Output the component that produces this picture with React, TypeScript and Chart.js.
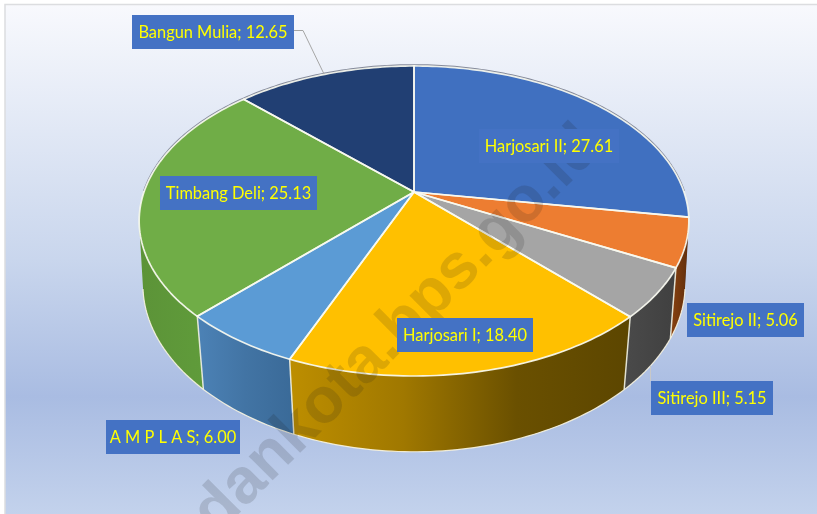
import React, { useEffect, useRef } from "react";
import { Chart, registerables } from "chart.js";

Chart.register(...registerables);

const categories = ["Harjosari II", "Sitirejo II", "Sitirejo III", "Harjosari I", "A M P L A S", "Timbang Deli", "Bangun Mulia"];
const values = [27.61, 5.06, 5.15, 18.4, 6.0, 25.13, 12.65];
const topColors = ["#4070C0", "#ED7D31", "#A5A5A5", "#FFC000", "#5B9BD5", "#70AD47", "#213F73"];
const wallStops = [
  ["#2f5597", "#2f5597"],
  ["#8a4210", "#5f2e0c"],
  ["#4a4a4a", "#404040"],
  ["#bd8e00", "#a07800", "#6a5000", "#5c4600"],
  ["#4c82b6", "#4274a4", "#3a6a98"],
  ["#5c9338", "#5f9a3a", "#62a03c"],
  ["#1a3560", "#1a3560"],
];
// label boxes: left, top, right, bottom
const labelBoxes = [
  [479, 129, 619, 163],
  [687, 303, 804, 337],
  [651, 381, 773, 415],
  [397, 318, 533, 352],
  [106, 420, 240, 454],
  [160, 176, 317, 210],
  [132, 15, 294, 49],
];

// perspective of the disc
const CX = 414, CY = 192, B = 270, A = 149.6, K = 0.187;
const M = 0.025, VY = 2916;

const top = (a: number) => {
  const u = Math.cos(a), v = Math.sin(a), w = 1 - K * v;
  return { x: CX + (B * u) / w, y: CY + (A * v) / w, w };
};
const bottom = (a: number) => {
  const p = top(a);
  const shrink = 0.986 - Math.max(0, 0.965 - p.w) * 0.14;
  return {
    x: CX + (p.x - CX) * shrink,
    y: (p.y * p.w + M * VY) / (p.w + M),
  };
};

const arcPoints = (f: (a: number) => { x: number; y: number }, s: number, e: number) => {
  const n = Math.max(2, Math.ceil((e - s) / 0.02));
  const out: { x: number; y: number }[] = [];
  for (let i = 0; i <= n; i++) out.push(f(s + ((e - s) * i) / n));
  return out;
};

const disc3d = {
  id: "disc3d",
  beforeDraw(chart: any) {
    const { ctx, width, height } = chart;
    ctx.save();
    ctx.fillStyle = "#ffffff";
    ctx.fillRect(0, 0, width, height);
    const g = ctx.createLinearGradient(0, 5, 0, 514);
    g.addColorStop(0, "#f8f9fd");
    g.addColorStop(0.5, "#c9d6ed");
    g.addColorStop(0.77, "#a9bce2");
    g.addColorStop(1, "#c3d2ec");
    ctx.fillStyle = g;
    ctx.fillRect(5, 5, width - 5, height - 5);
    ctx.strokeStyle = "#dcdde0";
    ctx.lineWidth = 1.5;
    ctx.beginPath();
    ctx.moveTo(5, height);
    ctx.lineTo(5, 4.5);
    ctx.lineTo(width, 4.5);
    ctx.stroke();
    ctx.restore();
  },
  beforeDatasetDraw(chart: any, args: any) {
    const { ctx } = chart;
    const arcs = args.meta.data as any[];
    const order = arcs.map((_, i) => i).sort((a, b) => {
      const m = (i: number) => Math.sin((arcs[i].startAngle + arcs[i].endAngle) / 2);
      return m(a) - m(b);
    });
    ctx.save();
    ctx.lineJoin = "round";
    // walls
    for (const i of order) {
      const { startAngle: s, endAngle: e } = arcs[i];
      const t = arcPoints(top, s, e);
      const b = arcPoints(bottom, s, e);
      const xs = [...t, ...b].map((p) => p.x);
      const x0 = Math.min(...xs), x1 = Math.max(...xs);
      const g = ctx.createLinearGradient(x0, 0, x1, 0);
      wallStops[i].forEach((c, k, l) => g.addColorStop(k / (l.length - 1), c));
      ctx.fillStyle = g;
      // fill as overlapping bands so the fold at the silhouette leaves no gap
      ctx.beginPath();
      for (let k = 1; k < t.length; k++) {
        const cw = (t[k].x - t[k - 1].x) * (b[k].y - t[k - 1].y) - (t[k].y - t[k - 1].y) * (b[k].x - t[k - 1].x) > 0;
        const q = [t[k - 1], t[k], b[k], b[k - 1]];
        const pts = cw ? q : [...q].reverse();
        pts.forEach((p, j) => (j ? ctx.lineTo(p.x, p.y) : ctx.moveTo(p.x, p.y)));
        ctx.closePath();
      }
      ctx.fill("nonzero");
    }
    // wall edges on the near side
    for (const el of arcs) {
      const a = el.startAngle;
      if (Math.sin(a) < 0.3) continue;
      const p = top(a), q = bottom(a);
      ctx.strokeStyle = "rgba(240,240,225,0.9)";
      ctx.lineWidth = 1.5;
      ctx.beginPath();
      ctx.moveTo(p.x, p.y);
      ctx.lineTo(q.x, q.y);
      ctx.stroke();
    }
    const lower = arcPoints(bottom, Math.PI * 0.06, Math.PI * 0.94);
    ctx.strokeStyle = "rgba(250,245,225,0.9)";
    ctx.lineWidth = 1.2;
    ctx.beginPath();
    lower.forEach((p, k) => (k ? ctx.lineTo(p.x, p.y) : ctx.moveTo(p.x, p.y)));
    ctx.stroke();
    // far rim shadow
    const rim = arcPoints(top, Math.PI, Math.PI * 2);
    ctx.strokeStyle = "rgba(90,95,115,0.7)";
    ctx.lineWidth = 2;
    ctx.beginPath();
    rim.forEach((p, k) => (k ? ctx.lineTo(p.x, p.y - 0.8) : ctx.moveTo(p.x, p.y - 0.8)));
    ctx.stroke();
    // top faces
    arcs.forEach((el, i) => {
      ctx.fillStyle = topColors[i];
      ctx.beginPath();
      ctx.moveTo(CX, CY);
      arcPoints(top, el.startAngle, el.endAngle).forEach((p) => ctx.lineTo(p.x, p.y));
      ctx.closePath();
      ctx.fill();
    });
    arcs.forEach((el) => {
      ctx.strokeStyle = "rgba(248,250,240,0.92)";
      ctx.lineWidth = 1.7;
      ctx.beginPath();
      ctx.moveTo(CX, CY);
      arcPoints(top, el.startAngle, el.endAngle).forEach((p) => ctx.lineTo(p.x, p.y));
      ctx.closePath();
      ctx.stroke();
    });
    ctx.restore();
    return false;
  },
  afterDraw(chart: any) {
    const { ctx } = chart;
    // watermark (under the labels)
    ctx.save();
    ctx.translate(365, 363);
    ctx.rotate(-Math.PI / 4);
    ctx.font = '700 64px "Liberation Sans", sans-serif';
    ctx.textAlign = "center";
    ctx.textBaseline = "middle";
    ctx.fillStyle = "rgba(30,30,30,0.15)";
    ctx.fillText("medankota.bps.go.id", 0, 0);
    ctx.restore();

    ctx.save();
    // leader lines
    ctx.strokeStyle = "#a6a6a6";
    ctx.lineWidth = 1;
    ctx.beginPath();
    ctx.moveTo(294, 30.5);
    ctx.lineTo(303, 30.5);
    ctx.lineTo(324, 74);
    ctx.stroke();
    ctx.strokeStyle = "#c8c8c8";
    ctx.beginPath();
    ctx.moveTo(650.5, 366);
    ctx.lineTo(650.5, 381);
    ctx.stroke();
    // labels
    categories.forEach((name, i) => {
      const [l, t, r, b] = labelBoxes[i];
      ctx.fillStyle = "#4472C4";
      ctx.fillRect(l, t, r - l, b - t);
      ctx.save();
      ctx.translate((l + r) / 2, (t + b) / 2 + 0.5);
      ctx.scale(0.91, 1);
      ctx.font = '400 18px Lato, "Open Sans", sans-serif';
      ctx.textAlign = "center";
      ctx.textBaseline = "middle";
      ctx.fillStyle = "#FFFF00";
      ctx.fillText(`${name}; ${values[i].toFixed(2)}`, 0, 0);
      ctx.restore();
    });
    ctx.restore();
  },
};

export default function App() {
  const ref = useRef<HTMLCanvasElement>(null);
  useEffect(() => {
    const chart = new Chart(ref.current!, {
      type: "pie",
      data: {
        labels: categories,
        datasets: [{ data: values, backgroundColor: topColors, borderWidth: 0 }],
      },
      options: {
        animation: false,
        responsive: false,
        plugins: { legend: { display: false }, tooltip: { enabled: false } },
      },
      plugins: [disc3d],
    });
    return () => chart.destroy();
  }, []);
  return (
    <div style={{ position: "fixed", left: 0, top: 0, width: 817, height: 514 }}>
      <canvas ref={ref} width={817} height={514} style={{ display: "block" }} />
    </div>
  );
}
